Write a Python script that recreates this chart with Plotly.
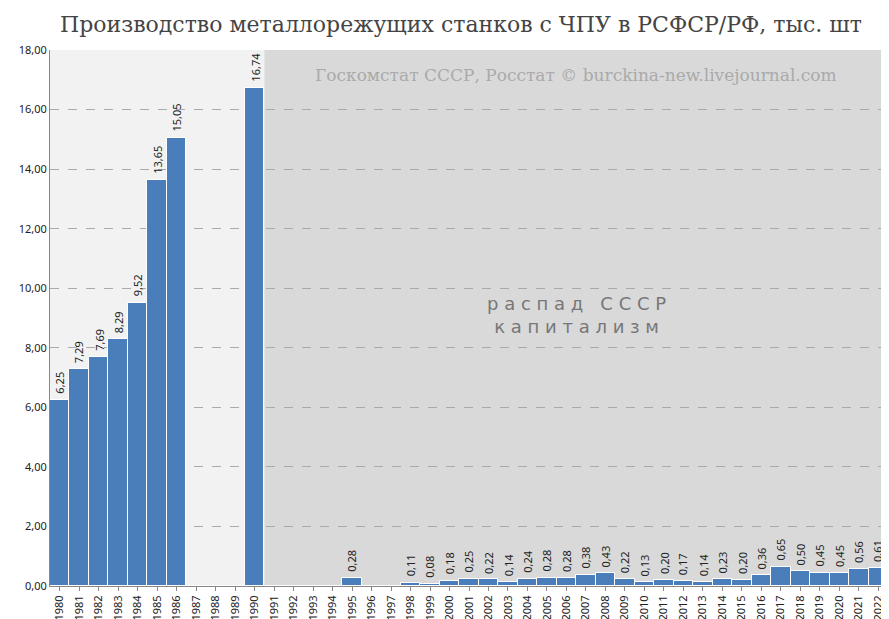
import plotly.graph_objects as go

years = list(range(1980, 2023))
values = [6.25, 7.29, 7.69, 8.29, 9.52, 13.65, 15.05, None, None, None, 16.74,
          None, None, None, None, 0.28, None, None, 0.11, 0.08, 0.18, 0.25, 0.22,
          0.14, 0.24, 0.28, 0.28, 0.38, 0.43, 0.22, 0.13, 0.20, 0.17, 0.14, 0.23,
          0.20, 0.36, 0.65, 0.50, 0.45, 0.45, 0.56, 0.61]
labels = ["" if v is None else f"{v:.2f}".replace(".", ",") for v in values]
yticks = [0, 2, 4, 6, 8, 10, 12, 14, 16, 18]

fig = go.Figure(go.Bar(
    x=years, y=[0 if v is None else v for v in values],
    marker=dict(color="#4a7ebb", line=dict(color="white", width=1)),
    width=1, hoverinfo="x+y"))

for yr, v, t in zip(years, values, labels):
    if v is None:
        continue
    fig.add_annotation(x=yr, y=v, xref="x", yref="y", text=t, showarrow=False,
                       textangle=-90, yanchor="bottom", yshift=4,
                       font=dict(family="Noto Sans", size=11, color="#222"))

fig.add_shape(type="rect", xref="x", yref="paper", x0=1979.5, x1=1990.5, y0=0, y1=1,
              fillcolor="#f2f2f2", line_width=0, layer="below")
fig.add_shape(type="rect", xref="x", yref="paper", x0=1990.5, x1=2022.5, y0=0, y1=1,
              fillcolor="#d9d9d9", line_width=0, layer="below")

fig.add_annotation(x=0.49, y=1.075, xref="paper", yref="paper", showarrow=False,
                   text="Производство металлорежущих станков с ЧПУ в РСФСР/РФ, тыс. шт",
                   font=dict(family="DejaVu Serif", size=22, color="#444"))
fig.add_annotation(x=2006.5, y=17.15, xref="x", yref="y", showarrow=False,
                   text="Госкомстат СССР, Росстат © burckina-new.livejournal.com",
                   font=dict(family="DejaVu Serif", size=17, color="#aaa"))
fig.add_annotation(x=2006.5, y=9.1, xref="x", yref="y", showarrow=False,
                   text="р а с п а д   С С С Р<br>к а п и т а л и з м",
                   font=dict(family="DejaVu Sans", size=18, color="#777"))

fig.update_layout(
    width=889, height=619, margin=dict(l=42, r=9, t=42, b=41),
    paper_bgcolor="white", plot_bgcolor="white", bargap=0, showlegend=False,
    separators=",.",
    xaxis=dict(range=[1979.5, 2022.5], tickvals=years, ticktext=[str(y) for y in years],
               tickangle=-90, tickfont=dict(family="Noto Sans", size=11, color="#222"),
               showgrid=False, showline=True, linecolor="#888", ticks="outside",
               ticklen=4, tickcolor="#888", automargin=False),
    yaxis=dict(range=[0, 18], tickvals=yticks, tickformat=".2f",
               tickfont=dict(family="Noto Sans", size=11, color="#222"),
               showgrid=True, gridcolor="#aaa", griddash="dash", zeroline=False,
               showline=True, linecolor="#888", automargin=False),
)
fig.write_html("out.html")
